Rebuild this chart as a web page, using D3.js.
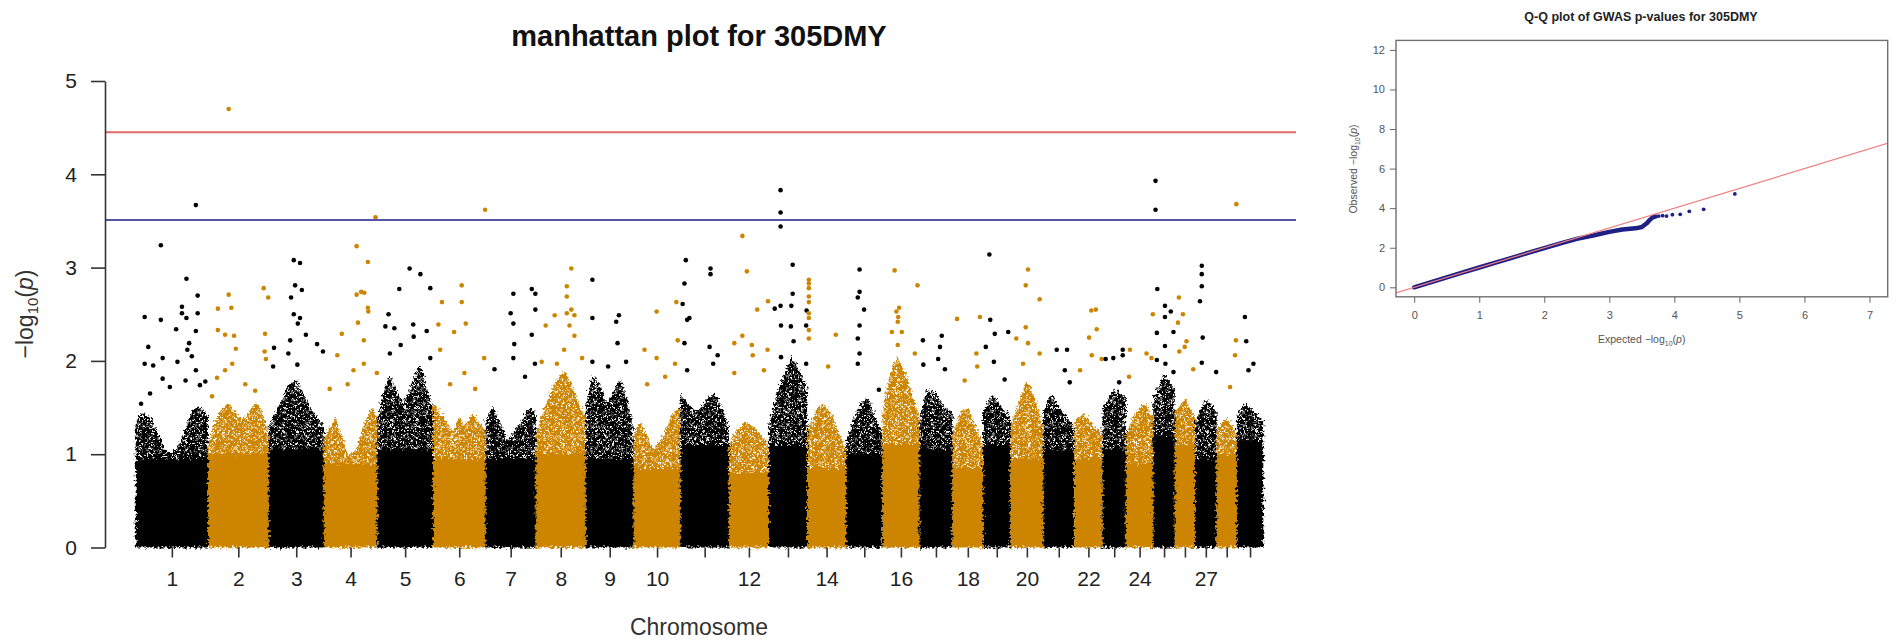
<!DOCTYPE html>
<html>
<head>
<meta charset="utf-8">
<script src="https://cdn.jsdelivr.net/npm/d3@7"></script>
<style>
  html, body { margin: 0; padding: 0; background: #fff; }
  svg { display: block; font-family: "Liberation Sans", Arial, sans-serif; }
</style>
</head>
<body>
<svg id="chart" width="1901" height="644"></svg>
<script>
/* global d3 */

// ---- data ----
const chromosomes = d3.range(1, 30);
// chromosome lengths, Mb
const chrLengths = [161, 135, 123, 119, 124, 117, 112, 111, 107, 104, 108, 89, 85, 87, 81,
  82, 74, 68, 61, 73, 69, 63, 52, 61, 48, 45, 48, 45, 59];
const chrLabels = [1, 2, 3, 4, 5, 6, 7, 8, 9, 10, 12, 14, 16, 18, 20, 22, 24, 27];

// top of the solid block of SNPs per chromosome, -log10(p)
const coreTop = [0.95, 1.0, 1.05, 0.9, 1.05, 0.95, 0.95, 1.0, 0.95, 0.85, 1.1, 0.8, 1.1, 0.85, 1.0,
  1.1, 1.05, 0.85, 1.1, 0.95, 1.05, 0.95, 1.05, 0.9, 1.2, 1.1, 0.95, 1.0, 1.15];

// top of the dense speckled cloud, sampled evenly along each chromosome
const bandTop = [
  [1.35, 1.45, 1.4, 1.25, 1.05, 1.0, 1.1, 1.3, 1.5, 1.5, 1.4],
  [1.1, 1.35, 1.5, 1.55, 1.45, 1.35, 1.45, 1.55, 1.5, 1.15],
  [1.3, 1.45, 1.6, 1.75, 1.8, 1.65, 1.5, 1.4, 1.3],
  [1.15, 1.3, 1.4, 1.2, 1.0, 1.0, 1.15, 1.35, 1.5, 1.4],
  [1.4, 1.65, 1.85, 1.7, 1.55, 1.65, 1.85, 1.95, 1.7, 1.5],
  [1.55, 1.45, 1.35, 1.25, 1.4, 1.3, 1.45, 1.35, 1.25],
  [1.35, 1.5, 1.35, 1.15, 1.25, 1.35, 1.5, 1.45],
  [1.25, 1.45, 1.65, 1.8, 1.9, 1.75, 1.55, 1.4],
  [1.5, 1.85, 1.75, 1.55, 1.65, 1.8, 1.6, 1.3],
  [1.2, 1.35, 1.2, 1.05, 1.15, 1.3, 1.45, 1.5],
  [1.65, 1.55, 1.45, 1.5, 1.6, 1.65, 1.5, 1.3],
  [1.1, 1.25, 1.35, 1.3, 1.2, 1.1],
  [1.3, 1.65, 1.85, 2.05, 1.9, 1.7],
  [1.25, 1.45, 1.55, 1.45, 1.25, 1.05],
  [1.15, 1.35, 1.55, 1.6, 1.4, 1.2],
  [1.5, 1.85, 2.05, 1.9, 1.65, 1.4],
  [1.4, 1.7, 1.65, 1.5, 1.45],
  [1.2, 1.45, 1.5, 1.3, 1.1],
  [1.45, 1.65, 1.5, 1.4],
  [1.3, 1.55, 1.8, 1.6, 1.3],
  [1.45, 1.65, 1.5, 1.4, 1.3],
  [1.35, 1.45, 1.3, 1.2],
  [1.5, 1.7, 1.6],
  [1.2, 1.45, 1.55, 1.4],
  [1.6, 1.85, 1.7],
  [1.45, 1.6, 1.4],
  [1.35, 1.6, 1.45],
  [1.25, 1.4, 1.2],
  [1.4, 1.55, 1.45, 1.35]
];

// single SNPs standing above the cloud: [position Mb, -log10(p)]
const topSnps = [
  [[20, 2.47], [56, 3.24], [56, 2.44], [103, 2.58], [103, 2.51], [113, 2.46], [113, 2.88], [134, 3.67], [138, 2.70], [138, 2.51], [28, 2.15], [20, 1.97], [60, 2.03], [90, 2.34], [93, 1.99], [134, 2.32], [115, 2.12], [119, 2.19], [155, 1.78], [134, 1.90], [32, 1.65], [60, 1.81], [111, 1.79], [143, 1.74], [12, 1.54], [39, 1.95], [76, 1.72], [125, 2.05]],
  [[46, 4.70], [22, 2.56], [52, 2.57], [46, 2.71], [124, 2.78], [134, 2.68], [22, 2.33], [38, 2.28], [58, 2.27], [62, 2.13], [127, 2.29], [126, 2.10], [129, 2.02], [38, 1.90], [20, 1.82], [54, 1.97], [83, 1.75], [105, 1.68], [9, 1.62]],
  [[50, 2.68], [56, 3.08], [70, 3.05], [59, 2.81], [74, 2.76], [56, 2.50], [70, 2.46], [65, 2.40], [83, 2.28], [48, 2.22], [108, 2.18], [12, 2.14], [121, 2.10], [44, 2.08], [64, 1.96], [10, 1.94]],
  [[73, 3.23], [98, 3.06], [73, 2.71], [83, 2.74], [90, 2.73], [98, 2.57], [99, 2.53], [115, 3.54], [76, 2.41], [40, 2.29], [89, 2.22], [30, 2.06], [89, 1.97], [66, 1.90], [118, 1.87], [13, 1.70], [53, 1.75]],
  [[25, 2.50], [49, 2.77], [72, 2.99], [96, 2.93], [118, 2.78], [18, 2.37], [38, 2.35], [80, 2.39], [81, 2.26], [110, 2.32], [52, 2.17], [28, 2.08], [118, 2.03]],
  [[20, 2.63], [64, 2.81], [64, 2.63], [116, 3.62], [12, 2.39], [47, 2.31], [73, 2.40], [16, 2.12], [114, 2.03], [70, 1.87], [38, 1.75], [94, 1.70]],
  [[62, 2.72], [56, 2.51], [103, 2.77], [111, 2.72], [111, 2.55], [62, 2.40], [64, 2.18], [62, 2.03], [20, 1.91], [103, 2.28], [110, 1.97], [88, 1.83]],
  [[42, 2.49], [79, 2.99], [69, 2.80], [69, 2.69], [79, 2.55], [69, 2.51], [86, 2.49], [22, 2.38], [75, 2.38], [86, 2.27], [63, 2.12], [103, 2.03], [13, 1.99], [47, 1.97]],
  [[15, 2.87], [15, 2.46], [74, 2.49], [68, 2.42], [71, 2.19], [15, 1.99], [90, 1.99], [50, 1.94]],
  [[51, 2.53], [95, 2.63], [24, 2.12], [51, 2.03], [98, 2.22], [92, 1.97], [70, 1.83], [30, 1.75]],
  [[12, 3.08], [9, 2.83], [5, 2.61], [20, 2.46], [67, 2.99], [67, 2.93], [15, 2.44], [9, 2.19], [65, 2.15], [83, 2.06], [15, 1.90], [73, 1.97]],
  [[30, 3.34], [40, 2.96], [63, 2.55], [87, 2.64], [30, 2.27], [12, 2.19], [51, 2.17], [86, 2.12], [53, 2.06], [12, 1.87], [78, 1.90]],
  [[26, 3.83], [26, 3.59], [26, 3.44], [53, 3.03], [53, 2.72], [13, 2.56], [26, 2.59], [50, 2.59], [84, 2.54], [27, 2.38], [55, 2.21], [83, 2.38], [49, 2.37], [27, 2.04], [83, 1.97]],
  [[4, 2.87], [4, 2.83], [4, 2.78], [4, 2.69], [4, 2.63], [4, 2.51], [4, 2.46], [4, 2.33], [4, 2.24], [64, 2.28], [47, 1.94]],
  [[30, 2.98], [30, 2.74], [26, 2.68], [40, 2.55], [30, 2.38], [26, 2.24], [30, 2.08], [26, 1.97], [73, 1.69]],
  [[27, 2.97], [78, 2.81], [37, 2.57], [31, 2.53], [35, 2.47], [34, 2.42], [21, 2.31], [43, 2.31], [34, 2.17], [72, 2.08]],
  [[8, 2.22], [50, 2.27], [46, 2.15], [42, 2.02], [9, 1.96], [57, 1.91]],
  [[10, 2.45], [61, 2.47], [53, 2.08], [55, 1.94], [27, 1.79]],
  [[14, 3.14], [16, 2.44], [26, 2.29], [56, 2.31], [6, 2.15], [24, 1.99], [48, 1.80]],
  [[39, 2.98], [34, 2.81], [65, 2.66], [13, 2.24], [34, 2.36], [39, 2.19], [65, 2.08], [28, 1.97]],
  [[30, 2.12], [53, 2.12], [48, 1.90], [59, 1.77]],
  [[38, 2.54], [48, 2.55], [50, 2.34], [33, 2.25], [61, 2.02], [13, 1.90], [39, 2.06]],
  [[7, 2.02], [24, 2.03], [45, 2.12], [45, 2.06], [37, 1.77]],
  [[60, 2.50], [9, 2.12], [46, 2.08], [7, 1.83], [57, 2.03]],
  [[5, 3.93], [5, 3.62], [9, 2.77], [26, 2.59], [39, 2.53], [26, 2.47], [8, 2.30], [45, 2.31], [26, 2.16], [8, 2.01], [45, 1.88], [27, 1.97]],
  [[9, 2.68], [18, 2.50], [7, 2.41], [26, 2.21], [10, 2.10], [41, 1.91], [22, 2.15]],
  [[15, 3.02], [15, 2.93], [15, 2.80], [11, 2.64], [17, 2.25], [15, 1.98], [47, 1.88]],
  [[44, 3.68], [43, 2.22], [41, 2.06], [30, 1.72]],
  [[18, 2.47], [21, 2.21], [37, 1.97], [26, 1.90]]
];

const genomeWideLine = 4.45;
const suggestiveLine = 3.51;
const yTicks = [0, 1, 2, 3, 4, 5];

// Q-Q plot: expected vs observed -log10(p)
const qqExpected = [0, 0.25, 0.5, 0.75, 1, 1.25, 1.5, 1.75, 2, 2.25, 2.5, 2.75, 3.0, 3.2, 3.4, 3.5, 3.58, 3.62, 3.66, 3.7];
const qqObserved = [0, 0.25, 0.5, 0.75, 1, 1.25, 1.49, 1.74, 1.98, 2.22, 2.45, 2.62, 2.80, 2.92, 2.98, 3.05, 3.25, 3.4, 3.52, 3.57];
const qqTailExpected = [3.72, 3.76, 3.82, 3.88, 3.97, 4.09, 4.23, 4.45, 4.93];
const qqTailObserved = [3.58, 3.60, 3.62, 3.60, 3.67, 3.69, 3.84, 3.94, 4.72];
const qqXTicks = [0, 1, 2, 3, 4, 5, 6, 7];
const qqYTicks = [0, 2, 4, 6, 8, 10, 12];

// ---- setup ----
const colors = ['#000000', '#cd8500'];
const font = '"Liberation Sans", Arial, sans-serif';
const svg = d3.select('#chart');
const defs = svg.append('defs');

const starts = [0, ...d3.cumsum(chrLengths)].slice(0, chrLengths.length);
const total = d3.sum(chrLengths);

const x = d3.scaleLinear().domain([0, total]).range([135.7, 1263.3]);
const y = d3.scaleLinear().domain([0, 5]).range([547.5, 81]);

// speckle texture for the dense part of the cloud
colors.forEach((c, i) => {
  const pat = defs.append('pattern')
    .attr('id', `speckle-${i}`)
    .attr('patternUnits', 'userSpaceOnUse')
    .attr('width', 12).attr('height', 12);
  [[2, 2], [7, 1.5], [10.5, 4.5], [4.5, 5.5], [1.5, 9], [8, 8], [5, 11], [11, 10.5], [3, 0], [0, 5], [12, 0]]
    .forEach(([cx, cy]) => pat.append('circle').attr('cx', cx).attr('cy', cy).attr('r', 2.2).attr('fill', c));
});

// roughen the edges of the dense cloud so it reads as many overlapping dots
const rough = defs.append('filter')
  .attr('id', 'rough')
  .attr('filterUnits', 'userSpaceOnUse')
  .attr('x', 110).attr('y', 200).attr('width', 1180).attr('height', 360);
rough.append('feTurbulence')
  .attr('type', 'fractalNoise').attr('baseFrequency', 0.4).attr('numOctaves', 2)
  .attr('seed', 7).attr('result', 'noise');
rough.append('feDisplacementMap')
  .attr('in', 'SourceGraphic').attr('in2', 'noise').attr('scale', 8)
  .attr('xChannelSelector', 'R').attr('yChannelSelector', 'G');

// ---- manhattan plot ----
const man = svg.append('g').attr('class', 'manhattan');

const chrData = chromosomes.map((chr, i) => ({
  chr,
  start: starts[i],
  len: chrLengths[i],
  core: coreTop[i],
  band: bandTop[i],
  snps: topSnps[i],
  color: colors[i % 2],
  pat: `url(#speckle-${i % 2})`,
}));

const band = d3.area()
  .x(d => x(d[0]))
  .y0(d => y(d[2]))
  .y1(d => y(d[1]))
  .curve(d3.curveLinear);

const cloudLayer = man.append('g').attr('filter', 'url(#rough)');
const clouds = cloudLayer.selectAll('g')
  .data(chrData)
  .enter().append('g')
    .attr('class', d => `chr chr-${d.chr}`);

clouds.append('path')
  .attr('fill', d => d.pat)
  .attr('d', d => band(d.band.map((v, k) => [d.start + d.len * k / (d.band.length - 1), v, d.core - 0.05])));

clouds.append('rect')
  .attr('x', d => x(d.start))
  .attr('width', d => x(d.start + d.len) - x(d.start))
  .attr('y', d => y(d.core))
  .attr('height', d => y(0) - y(d.core))
  .attr('fill', d => d.color);

const dotLayer = man.append('g');
dotLayer.selectAll('g')
  .data(chrData)
  .enter().append('g')
  .selectAll('circle')
  .data(d => d.snps.map(s => ({ pos: d.start + s[0], p: s[1], color: d.color })))
  .enter().append('circle')
    .attr('cx', d => x(d.pos))
    .attr('cy', d => y(d.p))
    .attr('r', 2.3)
    .attr('fill', d => d.color);

// threshold lines
man.append('line')
  .attr('x1', 105).attr('x2', 1296)
  .attr('y1', y(genomeWideLine)).attr('y2', y(genomeWideLine))
  .attr('stroke', '#de6a6a').attr('stroke-width', 2);
man.append('line')
  .attr('x1', 105).attr('x2', 1296)
  .attr('y1', y(suggestiveLine)).attr('y2', y(suggestiveLine))
  .attr('stroke', '#5656a8').attr('stroke-width', 2);

// axes
const yAxis = man.append('g')
  .attr('transform', 'translate(105,0)')
  .attr('color', '#333')
  .call(d3.axisLeft(y).tickValues(yTicks).tickFormat(d3.format('d'))
    .tickSize(14).tickSizeOuter(0).tickPadding(14));
yAxis.selectAll('path, line').attr('stroke-width', 1.6);
yAxis.selectAll('text')
  .attr('font-size', 21).attr('font-family', font).attr('fill', '#222');

const mids = chrData.map(d => d.start + d.len / 2);
const xAxis = man.append('g')
  .attr('transform', `translate(0,${y(0)})`)
  .attr('color', '#333')
  .call(d3.axisBottom(x).tickValues(mids).tickSize(10).tickPadding(14)
    .tickFormat((m, i) => (chrLabels.includes(chromosomes[i]) ? chromosomes[i] : '')));
xAxis.select('.domain').remove();
xAxis.selectAll('line').attr('stroke-width', 1.6);
xAxis.selectAll('text')
  .attr('font-size', 21).attr('font-family', font).attr('fill', '#222');

man.append('text')
  .attr('x', 699).attr('y', 635)
  .attr('text-anchor', 'middle')
  .attr('font-size', 23).attr('fill', '#333')
  .text('Chromosome');

const yLab = man.append('text')
  .attr('transform', 'translate(33,314) rotate(-90)')
  .attr('text-anchor', 'middle')
  .attr('font-size', 23).attr('fill', '#333');
yLab.append('tspan').text('−log');
yLab.append('tspan').attr('font-size', 15).attr('dy', 5).text('10');
yLab.append('tspan').attr('dy', -5).text('(');
yLab.append('tspan').attr('font-style', 'italic').text('p');
yLab.append('tspan').text(')');

man.append('text')
  .attr('x', 699).attr('y', 46)
  .attr('text-anchor', 'middle')
  .attr('font-size', 29).attr('font-weight', 'bold').attr('fill', '#111')
  .text('manhattan plot for 305DMY');

// ---- Q-Q plot ----
const qq = svg.append('g').attr('class', 'qq');
const qx = d3.scaleLinear().domain([-0.28, 7.28]).range([1396, 1887.7]);
const qy = d3.scaleLinear().domain([-0.48, 12.48]).range([296.8, 40.4]);

defs.append('clipPath').attr('id', 'qq-clip')
  .append('rect')
    .attr('x', qx.range()[0]).attr('y', qy.range()[1])
    .attr('width', qx.range()[1] - qx.range()[0])
    .attr('height', qy.range()[0] - qy.range()[1]);

const qqDense = qqExpected.map((e, i) => [e, qqObserved[i]]);
const qqTail = qqTailExpected.map((e, i) => [e, qqTailObserved[i]]);

qq.append('path')
  .datum(qqDense)
  .attr('fill', 'none')
  .attr('stroke', '#1f1f86')
  .attr('stroke-width', 4.5)
  .attr('stroke-linecap', 'round')
  .attr('stroke-linejoin', 'round')
  .attr('d', d3.line().x(d => qx(d[0])).y(d => qy(d[1])));

qq.selectAll('circle.tail')
  .data(qqTail)
  .enter().append('circle')
    .attr('class', 'tail')
    .attr('cx', d => qx(d[0]))
    .attr('cy', d => qy(d[1]))
    .attr('r', 1.9)
    .attr('fill', '#1f1f86');

qq.append('line')
  .attr('clip-path', 'url(#qq-clip)')
  .attr('x1', qx(-0.5)).attr('y1', qy(-0.5))
  .attr('x2', qx(7.5)).attr('y2', qy(7.5))
  .attr('stroke', '#ee7f7f').attr('stroke-width', 1.2);

qq.append('rect')
  .attr('x', qx.range()[0]).attr('y', qy.range()[1])
  .attr('width', qx.range()[1] - qx.range()[0])
  .attr('height', qy.range()[0] - qy.range()[1])
  .attr('fill', 'none').attr('stroke', '#707070').attr('stroke-width', 1.4);

const qqXAxis = qq.append('g')
  .attr('transform', `translate(0,${qy.range()[0]})`)
  .attr('color', '#666')
  .call(d3.axisBottom(qx).tickValues(qqXTicks).tickSize(6).tickPadding(8));
qqXAxis.select('.domain').remove();
qqXAxis.selectAll('text').attr('font-size', 11).attr('fill', '#555').attr('font-family', font);

const qqYAxis = qq.append('g')
  .attr('transform', `translate(${qx.range()[0]},0)`)
  .attr('color', '#666')
  .call(d3.axisLeft(qy).tickValues(qqYTicks).tickSize(6).tickPadding(5));
qqYAxis.select('.domain').remove();
qqYAxis.selectAll('text').attr('font-size', 11).attr('fill', '#555').attr('font-family', font);

qq.append('text')
  .attr('x', 1641).attr('y', 21)
  .attr('text-anchor', 'middle')
  .attr('font-size', 12.5).attr('font-weight', 'bold').attr('fill', '#222')
  .text('Q-Q plot of GWAS p-values for 305DMY');

function logLabel(sel, prefix) {
  sel.append('tspan').text(`${prefix}  −log`);
  sel.append('tspan').attr('font-size', 7).attr('dy', 2.5).text('10');
  sel.append('tspan').attr('dy', -2.5).text('(');
  sel.append('tspan').attr('font-style', 'italic').text('p');
  sel.append('tspan').text(')');
}

qq.append('text')
  .attr('x', 1641.7).attr('y', 343)
  .attr('text-anchor', 'middle')
  .attr('font-size', 10.5).attr('fill', '#555')
  .call(logLabel, 'Expected');

qq.append('text')
  .attr('transform', 'translate(1357,169) rotate(-90)')
  .attr('text-anchor', 'middle')
  .attr('font-size', 10.5).attr('fill', '#555')
  .call(logLabel, 'Observed');
</script>
</body>
</html>
